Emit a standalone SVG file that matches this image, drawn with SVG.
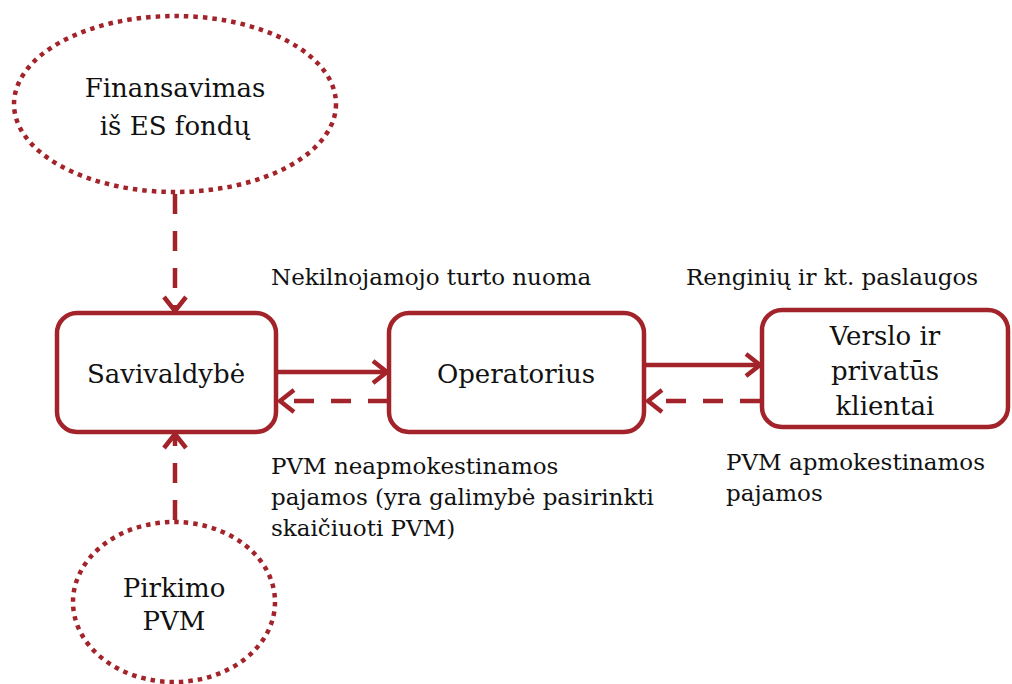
<svg xmlns="http://www.w3.org/2000/svg" width="1012" height="684" viewBox="0 0 1012 684">
<style>
.box{fill:#fff;stroke:#A3232A;stroke-width:4.5}
.ell{fill:#fff;stroke:#A3232A;stroke-width:4.5;stroke-dasharray:4.5 5}
.solid{fill:none;stroke:#A3232A;stroke-width:4.5}
.dash{fill:none;stroke:#A3232A;stroke-width:4.5;stroke-dasharray:20 17}
text{font-family:"DejaVu Serif","Liberation Serif",serif;fill:#111}
.n{font-size:26px;text-anchor:middle}
.l{font-size:23px}
</style>
<defs>
<marker id="ah" viewBox="0 0 18 26" refX="16" refY="13" markerWidth="18" markerHeight="26" markerUnits="userSpaceOnUse" orient="auto">
<path d="M2,2 L16,13 L2,24" fill="none" stroke="#A3232A" stroke-width="4.5" stroke-dasharray="none"/>
</marker>
</defs>
<g id="connectors">
<path class="dash" d="M175,194 V311" marker-end="url(#ah)"/>
<path class="dash" d="M175,520 V434" marker-end="url(#ah)"/>
<path class="solid" d="M277,372 H387" marker-end="url(#ah)"/>
<path class="dash" d="M388,401 H280" marker-end="url(#ah)"/>
<path class="solid" d="M645,365 H760" marker-end="url(#ah)"/>
<path class="dash" d="M760,401 H648" marker-end="url(#ah)"/>
</g>
<g id="n-finansavimas">
<ellipse class="ell" cx="175" cy="104" rx="161" ry="88"/>
<text class="n" x="175" y="97">Finansavimas</text>
<text class="n" x="175" y="135">iš ES fondų</text>
</g>
<g id="n-savivaldybe">
<rect class="box" x="57" y="313" width="219" height="119" rx="20"/>
<text class="n" x="166" y="383">Savivaldybė</text>
</g>
<g id="n-operatorius">
<rect class="box" x="389" y="313" width="255" height="119" rx="20"/>
<text class="n" x="516" y="383">Operatorius</text>
</g>
<g id="n-verslo">
<rect class="box" x="762" y="310" width="246" height="117" rx="20"/>
<text class="n" x="885" y="345">Verslo ir</text>
<text class="n" x="885" y="380">privatūs</text>
<text class="n" x="885" y="415">klientai</text>
</g>
<g id="n-pirkimo">
<ellipse class="ell" cx="174" cy="602" rx="101" ry="80"/>
<text class="n" x="174" y="597">Pirkimo</text>
<text class="n" x="174" y="630">PVM</text>
</g>
<g id="labels">
<text class="l" x="271" y="285">Nekilnojamojo turto nuoma</text>
<text class="l" x="686" y="285">Renginių ir kt. paslaugos</text>
<text class="l" x="271" y="474">PVM neapmokestinamos</text>
<text class="l" x="271" y="505">pajamos (yra galimybė pasirinkti</text>
<text class="l" x="271" y="536">skaičiuoti PVM)</text>
<text class="l" x="726" y="470">PVM apmokestinamos</text>
<text class="l" x="726" y="501">pajamos</text>
</g>
</svg>
